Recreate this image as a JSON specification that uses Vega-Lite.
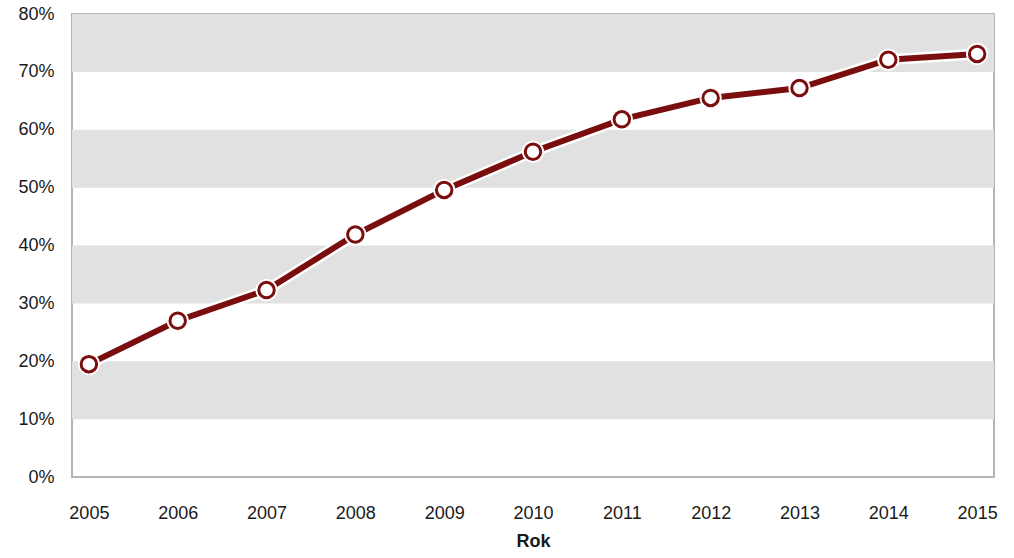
{
  "$schema": "https://vega.github.io/schema/vega-lite/v6.json",
  "autosize": {"type": "none"},
  "padding": {"left": 72, "top": 14, "right": 20, "bottom": 81},
  "width": 922,
  "height": 463,
  "config": {
    "view": {"stroke": "#b4b4b4", "strokeWidth": 2},
    "font": "Liberation Sans"
  },
  "datasets": {
    "bands": [
      {"lo": 0.1, "hi": 0.2},
      {"lo": 0.3, "hi": 0.4},
      {"lo": 0.5, "hi": 0.6},
      {"lo": 0.7, "hi": 0.8}
    ],
    "series": [
      {"rok": "2005", "v": 0.195},
      {"rok": "2006", "v": 0.27},
      {"rok": "2007", "v": 0.323},
      {"rok": "2008", "v": 0.419},
      {"rok": "2009", "v": 0.496},
      {"rok": "2010", "v": 0.562},
      {"rok": "2011", "v": 0.618},
      {"rok": "2012", "v": 0.655},
      {"rok": "2013", "v": 0.672},
      {"rok": "2014", "v": 0.721},
      {"rok": "2015", "v": 0.731}
    ]
  },
  "layer": [
    {
      "data": {"name": "bands"},
      "mark": {"type": "rect", "color": "#e1e1e1"},
      "encoding": {
        "y": {
          "field": "lo", "type": "quantitative",
          "scale": {"domain": [0, 0.8], "nice": false},
          "axis": {"title": null, "format": ".0%", "values": [0, 0.1, 0.2, 0.3, 0.4, 0.5, 0.6, 0.7, 0.8], "labelFontSize": 18, "labelColor": "#1a1a1a", "labelPadding": 18, "ticks": false, "domain": false, "grid": false}
        },
        "y2": {"field": "hi"}
      }
    },
    {
      "data": {"name": "series"},
      "encoding": {
        "x": {
          "field": "rok", "type": "ordinal",
          "scale": {"type": "point", "padding": 0.19},
          "axis": {"title": "Rok", "labelAngle": 0, "labelFontSize": 18, "labelColor": "#1a1a1a", "labelPadding": 27, "ticks": false, "domain": false, "titleFontSize": 18, "titleFontWeight": "bold", "titleColor": "#1a1a1a", "titlePadding": 10}
        },
        "y": {"field": "v", "type": "quantitative"}
      },
      "layer": [
        {"mark": {"type": "line", "color": "white", "strokeWidth": 11}},
        {"mark": {"type": "line", "color": "#7a0e0e", "strokeWidth": 6}},
        {"mark": {"type": "point", "filled": false, "fill": "white", "stroke": "white", "strokeWidth": 6, "size": 260, "opacity": 1}},
        {"mark": {"type": "point", "filled": false, "fill": "white", "stroke": "#7a0e0e", "strokeWidth": 3, "size": 240, "opacity": 1}}
      ]
    }
  ]
}
